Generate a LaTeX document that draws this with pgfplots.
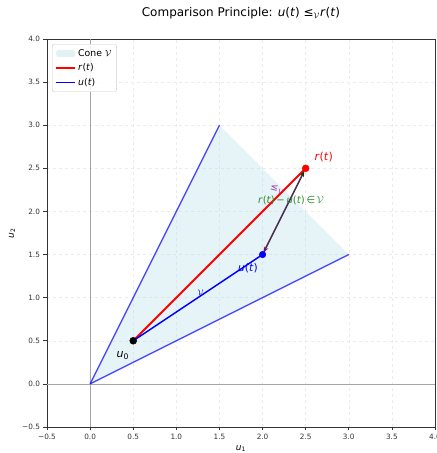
\documentclass[border=0pt]{standalone}
\usepackage{pgfplots}
\pgfplotsset{compat=1.18}
\usepackage{fontspec}
\setmainfont{DejaVu Sans}
\usetikzlibrary{arrows.meta,calc}
\definecolor{conefill}{HTML}{ADD8E6}
\definecolor{arrowc}{HTML}{4C3050}
\definecolor{mplgreen}{HTML}{2E8B2E}
\definecolor{mplpurple}{HTML}{800080}
\newcommand{\ti}[1]{\textit{#1}}
\begin{document}
\begin{tikzpicture}
\begin{axis}[
  scale only axis, width=388pt, height=388pt,
  xmin=-0.5, xmax=4, ymin=-0.5, ymax=4,
  xtick={-0.5,0,0.5,1,1.5,2,2.5,3,3.5,4},
  ytick={-0.5,0,0.5,1,1.5,2,2.5,3,3.5,4},
  xticklabels={−0.5,0.0,0.5,1.0,1.5,2.0,2.5,3.0,3.5,4.0},
  yticklabels={−0.5,0.0,0.5,1.0,1.5,2.0,2.5,3.0,3.5,4.0},
  tick label style={font=\fontsize{7.3}{8}\selectfont, text=black!80},
  tick align=outside, tick pos=left, major tick length=3.5pt,
  tick style={black!80, line width=0.6pt},
  grid=major, grid style={dashed, black!8, line width=0.5pt},
  axis line style={line width=0.7pt, black!80},
  title={Comparison Principle: \ti{u}(\ti{t}) ≤$_{\mathcal{V}}$\ti{r}(\ti{t})},
  title style={at={(axis description cs:0.5,1.05)}, anchor=center, font=\fontsize{12}{14}\selectfont},
  xlabel={\ti{u}\textsubscript{1}},
  ylabel={\ti{u}\textsubscript{2}},
  every axis x label/.style={at={(axis description cs:0.5,-0.055)}, anchor=center, font=\fontsize{9}{10}\selectfont},
  every axis y label/.style={at={(axis description cs:-0.09,0.5)}, anchor=center, rotate=90, font=\fontsize{9}{10}\selectfont},
  legend style={at={(axis description cs:0.013,0.987)}, anchor=north west,
    draw=black!20, rounded corners=2pt, fill=white, fill opacity=0.85, text opacity=1,
    font=\fontsize{9.3}{11}\selectfont, inner sep=3pt, row sep=2pt},
  legend cell align=left,
]
\draw[black!35, line width=0.7pt] (axis cs:-0.5,0) -- (axis cs:4,0);
\draw[black!35, line width=0.7pt] (axis cs:0,-0.5) -- (axis cs:0,4);

\addplot[fill=conefill, fill opacity=0.3, draw=none,
  legend image code/.code={\fill[conefill, fill opacity=0.35] (0pt,-3.5pt) rectangle (19pt,3.5pt);}]
  coordinates {(0,0) (1.5,3) (3,1.5) (0,0)};
\addlegendentry{Cone $\mathcal{V}$}
\addplot[blue, opacity=0.7, line width=1.3pt, forget plot] coordinates {(0,0) (1.5,3)};
\addplot[blue, opacity=0.7, line width=1.3pt, forget plot] coordinates {(0,0) (3,1.5)};

\addplot[red, line width=2pt, no marks,
  legend image code/.code={\draw[red, line width=2pt] (0pt,0pt) -- (19pt,0pt);}] coordinates {(0.5,0.5) (2.5,2.5)};
\addlegendentry{\ti{r}(\ti{t})}
\addplot[blue, line width=1.5pt, no marks,
  legend image code/.code={\draw[blue, line width=1.5pt] (0pt,0pt) -- (19pt,0pt);}] coordinates {(0.5,0.5) (2,1.5)};
\addlegendentry{\ti{u}(\ti{t})}

\addplot[arrowc, line width=1.6pt, forget plot,
  arrows={Stealth[color=mplpurple!80!arrowc, length=6pt, width=4.5pt]-Stealth[color=mplgreen!40!black, length=6pt, width=4.5pt]},
  shorten <=2pt, shorten >=3pt] coordinates {(2,1.5) (2.5,2.5)};

\addplot[only marks, mark=*, mark size=3.5pt, black, forget plot] coordinates {(0.5,0.5)};
\addplot[only marks, mark=*, mark size=3.5pt, red, forget plot] coordinates {(2.5,2.5)};
\addplot[only marks, mark=*, mark size=3.3pt, blue, forget plot] coordinates {(2,1.5)};

\node[text=red, font=\fontsize{11}{12}\selectfont] at (axis cs:2.71,2.63) {\ti{r}(\ti{t})};
\node[text=blue, font=\fontsize{10.6}{12}\selectfont] at (axis cs:1.83,1.34) {\ti{u}(\ti{t})};
\node[text=black, font=\fontsize{11}{12}\selectfont] at (axis cs:0.38,0.33) {\ti{u}\textsubscript{0}};
\node[text=mplgreen, font=\fontsize{10}{11}\selectfont] at (axis cs:2.33,2.13) {\ti{r}(\ti{t})\,−\,\ti{u}(\ti{t})\,∈\,$\mathcal{V}$};
\node[text=mplpurple!80, rotate=-15, font=\fontsize{9.5}{11}\selectfont] at (axis cs:2.17,2.25) {≤$_{\mathcal{V}}$};
\node[text=blue, font=\fontsize{8}{9}\selectfont] at (axis cs:1.28,1.06) {$\mathcal{V}$};
\end{axis}
\pgfresetboundingbox
\path ($(current axis.south west)+(-47pt,-26pt)$) rectangle ($(current axis.north east)+(2pt,39pt)$);
\end{tikzpicture}
\end{document}
